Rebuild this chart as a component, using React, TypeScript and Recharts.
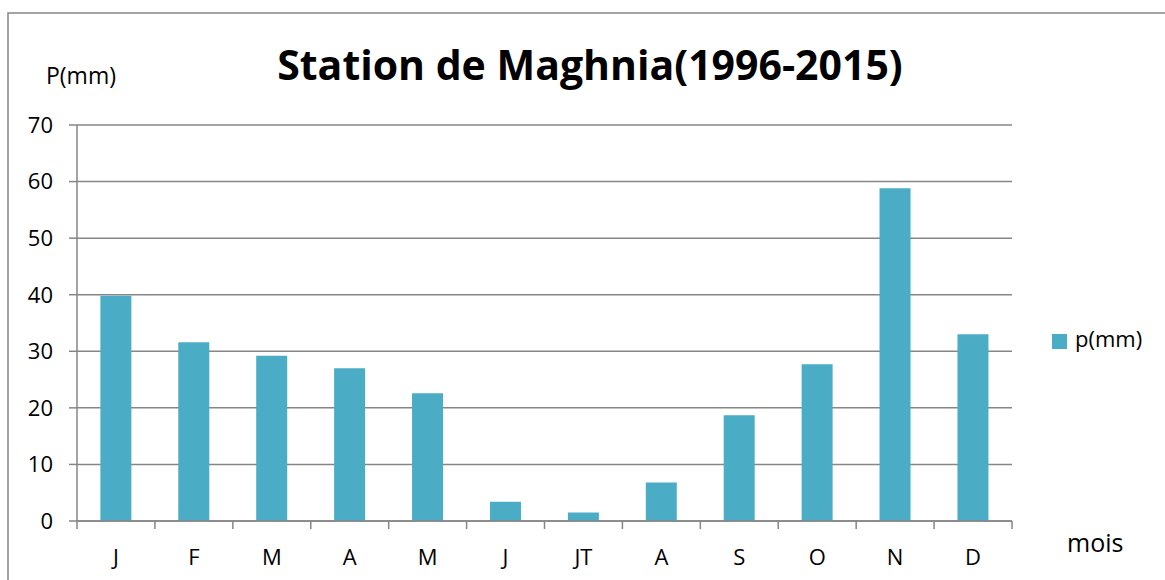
import { Bar, BarChart, CartesianGrid, Legend, XAxis, YAxis } from 'recharts'

const months = ['J', 'F', 'M', 'A', 'M', 'J', 'JT', 'A', 'S', 'O', 'N', 'D']
const rainfall = [39.8, 31.6, 29.2, 27.0, 22.6, 3.4, 1.5, 6.8, 18.7, 27.7, 58.8, 33.0]
const yTicks = [0, 10, 20, 30, 40, 50, 60, 70]

const data = months.map((m, i) => ({ month: m, p: rainfall[i] }))

const W = 1165
const H = 580
const PLOT_LEFT = 77
const PLOT_RIGHT = 1012
const BAND = (PLOT_RIGHT - PLOT_LEFT) / months.length
const GRID = '#868686'
const FONT = '"Open Sans", sans-serif'

function MonthTick(props: any) {
  const { x, y, payload, index } = props
  const left = x - BAND / 2
  const right = x + BAND / 2
  return (
    <g>
      <line x1={left} x2={left} y1={y} y2={y + 8} stroke={GRID} strokeWidth={1.5} />
      {index === months.length - 1 && (
        <line x1={right} x2={right} y1={y} y2={y + 8} stroke={GRID} strokeWidth={1.5} />
      )}
      <text x={x} y={y + 44} textAnchor="middle" fill="#000" fontSize={22} fontFamily={FONT}>
        {payload.value}
      </text>
    </g>
  )
}

export default function App() {
  return (
    <div style={{ position: 'fixed', left: 0, top: 0, width: W, height: H, background: '#fff' }}>
      <BarChart
        width={W}
        height={H}
        data={data}
        barCategoryGap="30%"
        margin={{ top: 125, right: W - PLOT_RIGHT, bottom: 0, left: 0 }}
      >
        <CartesianGrid vertical={false} stroke={GRID} strokeWidth={1.5} />
        <XAxis
          dataKey="month"
          height={H - 521}
          tickLine={false}
          tickSize={0}
          tickMargin={0}
          axisLine={{ stroke: GRID, strokeWidth: 1.5 }}
          tick={<MonthTick />}
          interval={0}
        />
        <YAxis
          width={PLOT_LEFT}
          domain={[0, 70]}
          ticks={yTicks}
          interval={0}
          tickSize={8}
          tickMargin={16}
          axisLine={{ stroke: GRID, strokeWidth: 1.5 }}
          tickLine={{ stroke: GRID, strokeWidth: 1.5 }}
          tick={{ fill: '#000', fontSize: 22, fontFamily: FONT }}
        />
        <Legend
          layout="vertical"
          align="center"
          verticalAlign="middle"
          iconType="square"
          iconSize={15}
          wrapperStyle={{ left: 1052, top: 323, width: 113, fontFamily: FONT, fontSize: 22 }}
          formatter={(v: string) => <span style={{ color: '#000', marginLeft: 4 }}>{v}</span>}
        />
        <Bar dataKey="p" name="p(mm)" fill="#4BACC6" isAnimationActive={false} />
      </BarChart>
      <svg
        width={W}
        height={H}
        style={{ position: 'absolute', left: 0, top: 0, pointerEvents: 'none' }}
      >
        <rect x={8} y={13} width={1300} height={700} fill="none" stroke={GRID} strokeWidth={1.5} />
        <text x={590} y={80} textAnchor="middle" fontSize={41} fontWeight="bold" fontFamily={FONT}>
          Station de Maghnia(1996-2015)
        </text>
        <text x={46} y={84} fontSize={23} fontFamily={FONT}>
          P(mm)
        </text>
        <text x={1067} y={552} fontSize={25} fontFamily={FONT}>
          mois
        </text>
      </svg>
    </div>
  )
}
